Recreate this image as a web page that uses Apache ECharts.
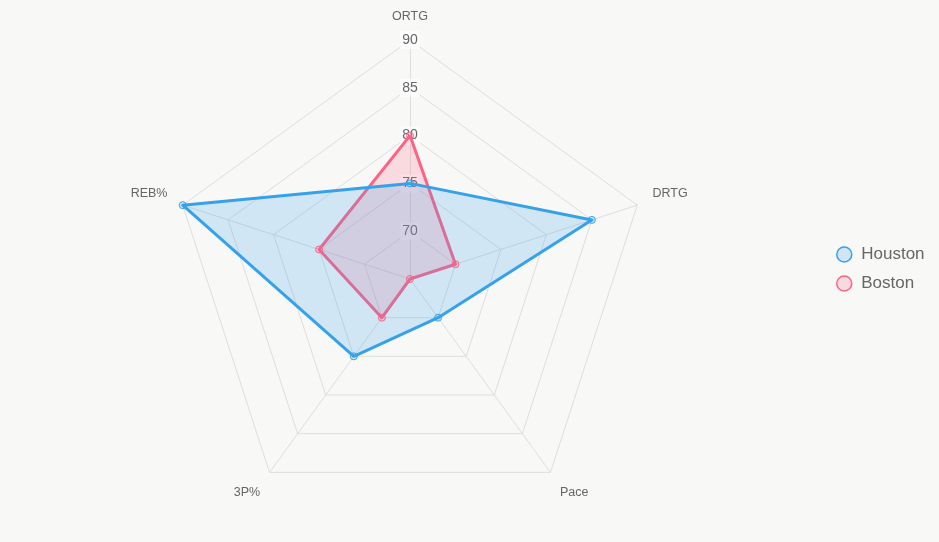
<!DOCTYPE html>
<html>
<head>
<meta charset="utf-8">
<script src="https://cdn.jsdelivr.net/npm/echarts@6/dist/echarts.min.js"></script>
<style>
html,body{margin:0;padding:0;background:#f8f8f7;}
#chart{width:939px;height:542px;}
</style>
</head>
<body>
<div id="chart"></div>
<script>
const indicators = ['ORTG', 'DRTG', 'Pace', '3P%', 'REB%'];
const houston = [75, 85, 70, 75, 90];
const boston = [80, 70, 65, 70, 75];
const scaleMin = 65;
const scaleMax = 90;

// ECharts radar runs counter-clockwise; reorder so the axes go clockwise from the top
const order = [0, 4, 3, 2, 1];
const pick = function (arr) { return order.map(function (i) { return arr[i]; }); };

const font = '"Liberation Sans", Arial, Helvetica, sans-serif';
const chart = echarts.init(document.getElementById('chart'), null, {renderer: 'canvas'});

const option = {
  backgroundColor: '#f8f8f7',
  animation: false,
  legend: {
    orient: 'vertical',
    left: 831,
    top: 241,
    itemWidth: 24,
    itemHeight: 15,
    itemGap: 12,
    icon: 'circle',
    data: [
      {name: 'Houston', itemStyle: {color: 'rgba(54,162,235,0.2)', borderColor: 'rgb(54,162,235)', borderWidth: 1.5}},
      {name: 'Boston', itemStyle: {color: 'rgba(255,99,132,0.2)', borderColor: 'rgb(255,99,132)', borderWidth: 1.5}}
    ],
    textStyle: {color: '#666', fontSize: 17, fontFamily: font}
  },
  radar: {
    center: [410, 279],
    radius: 239,
    startAngle: 90,
    splitNumber: 5,
    shape: 'polygon',
    axisName: {
      color: '#666',
      fontSize: 12.5,
      fontFamily: font,
      lineHeight: 14,
      formatter: function (name) {
        if (name === 'ORTG') return name;
        if (name === 'DRTG' || name === 'REB%') return name + '\n ';
        return ' \n' + name;
      }
    },
    nameGap: 16,
    axisLine: {lineStyle: {color: '#dedede', width: 1}},
    splitLine: {lineStyle: {color: '#dedede', width: 1}},
    splitArea: {show: false},
    axisTick: {show: false},
    axisLabel: {show: false},
    indicator: pick(indicators).map(function (n, i) {
      const o = {name: n, min: scaleMin, max: scaleMax};
      if (i === 0) {
        o.axisLabel = {
          show: true,
          showMinLabel: false,
          margin: 0,
          align: 'center',
          verticalAlign: 'middle',
          color: '#666',
          fontSize: 14,
          fontFamily: font,
          backgroundColor: 'rgba(255,255,255,0.75)',
          padding: [2, 2]
        };
      }
      return o;
    })
  },
  series: [
    {
      type: 'radar',
      data: [
        {
          name: 'Boston',
          value: pick(boston),
          symbol: 'circle',
          symbolSize: 7,
          itemStyle: {color: 'rgba(255,99,132,0.2)', borderColor: 'rgb(255,99,132)', borderWidth: 1},
          lineStyle: {color: 'rgb(255,99,132)', width: 3},
          areaStyle: {color: 'rgba(255,99,132,0.2)', opacity: 1}
        }
      ]
    },
    {
      type: 'radar',
      data: [
        {
          name: 'Houston',
          value: pick(houston),
          symbol: 'circle',
          symbolSize: 7,
          itemStyle: {color: 'rgba(54,162,235,0.2)', borderColor: 'rgb(54,162,235)', borderWidth: 1},
          lineStyle: {color: 'rgb(54,162,235)', width: 3},
          areaStyle: {color: 'rgba(54,162,235,0.2)', opacity: 1}
        }
      ]
    }
  ]
};
chart.setOption(option);
</script>
</body>
</html>
